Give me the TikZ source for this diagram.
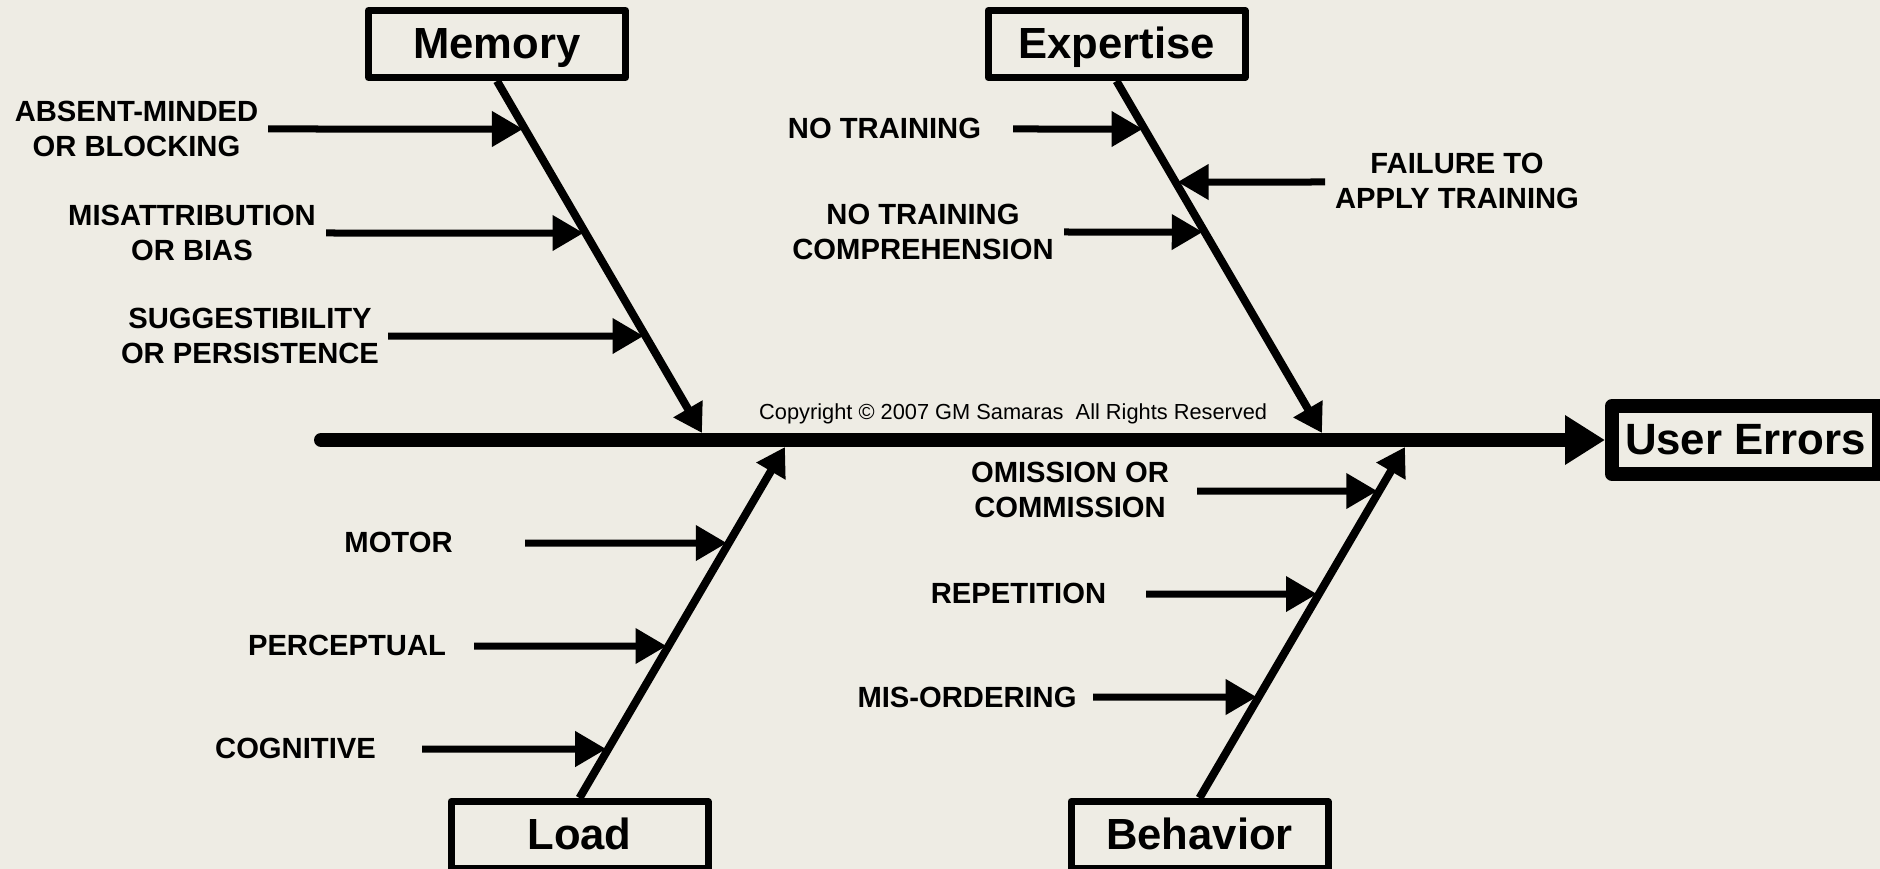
\documentclass[tikz,border=0pt]{standalone}
\usepackage{fontspec}
\setmainfont{Liberation Sans}
\usetikzlibrary{arrows.meta,calc}
\definecolor{paper}{RGB}{238,236,228}

\tikzset{
  category/.style={draw, line width=7pt, line join=round, minimum width=257pt,
    minimum height=67pt, inner sep=0pt, text height=31pt, text depth=2pt,
    font=\fontsize{43.6}{50}\selectfont\bfseries},
  effect/.style={draw, line width=14pt, line join=round, minimum width=267pt,
    minimum height=68pt, inner sep=0pt, text height=31pt, text depth=3pt,
    font=\fontsize{43.8}{50}\selectfont\bfseries},
  cause/.style={align=center, inner sep=0pt,
    font=\fontsize{29.2}{35}\selectfont\bfseries},
  branch/.style={line width=7pt, -{Triangle[length=31pt,width=34pt]}, shorten >=2pt},
  bone/.style={line width=8pt, -{Triangle[length=28pt,width=32pt]}},
  spine/.style={line width=14pt, line cap=round, -{Triangle[length=40pt,width=47pt]}},
}

% horizontal cause arrow from a start point to the bone it feeds
\newcommand\causearrow[4]{%
  \coordinate (#1s) at #2;
  \coordinate (#1r) at ($(#1s)+(100,0)$);
  \draw[branch] (#1s) -- (intersection of #1s--#1r and #3--#4);
}

\begin{document}
\begin{tikzpicture}[x=1pt,y=-1pt]
  \useasboundingbox (0,0) rectangle (1880,869);
  \clip (0,0) rectangle (1880,869);
  \fill[paper] (0,0) rectangle (1880,869);

  % effect and spine
  \node[effect] (ue) at (1745.5,440) {User Errors};
  \coordinate (spinestart) at (321,440);
  \draw[spine] (spinestart) -- (ue.west);

  % category boxes
  \node[category] (mem)  at (497,44)    {Memory};
  \node[category] (exp)  at (1116.5,44) {Expertise};
  \node[category] (load) at (579.5,835) {Load};
  \node[category] (beh)  at (1199.5,835){Behavior};

  % bones into the spine
  \coordinate (memtop) at (mem.south);
  \coordinate (exptop) at (exp.south);
  \coordinate (loadtop) at (load.north);
  \coordinate (behtop) at (beh.north);
  \coordinate (memtip)  at (702,433);
  \coordinate (exptip)  at (1322,433);
  \coordinate (loadtip) at (785,447);
  \coordinate (behtip)  at (1405,447);
  \draw[bone] (memtop) -- (memtip);
  \draw[bone] (exptop) -- (exptip);
  \draw[bone] (loadtop) -- (loadtip);
  \draw[bone] (behtop) -- (behtip);

  % Memory causes
  \node[cause] (m1) at (136.5,129) {ABSENT-MINDED\\OR BLOCKING};
  \node[cause] (m2) at (192,232.5) {MISATTRIBUTION\\OR BIAS};
  \node[cause] (m3) at (250,336)   {SUGGESTIBILITY\\OR PERSISTENCE};
  \causearrow{ma}{(268,129)}{memtop}{memtip}
  \causearrow{mb}{(326,233)}{memtop}{memtip}
  \causearrow{mc}{(388,336)}{memtop}{memtip}

  % Expertise causes
  \node[cause] (e1) at (884.5,128) {NO TRAINING};
  \node[cause] (e2) at (1457,181)  {FAILURE TO\\APPLY TRAINING};
  \node[cause] (e3) at (923,232)   {NO TRAINING\\COMPREHENSION};
  \causearrow{ea}{(1013,129)}{exptop}{exptip}
  \causearrow{eb}{(1325,182)}{exptop}{exptip}
  \causearrow{ec}{(1064,232)}{exptop}{exptip}

  % Load causes
  \node[cause] (l1) at (398.5,542) {MOTOR};
  \node[cause] (l2) at (347,645)   {PERCEPTUAL};
  \node[cause] (l3) at (295.5,748) {COGNITIVE};
  \causearrow{la}{(525,543)}{loadtop}{loadtip}
  \causearrow{lb}{(474,646)}{loadtop}{loadtip}
  \causearrow{lc}{(422,749)}{loadtop}{loadtip}

  % Behavior causes
  \node[cause] (b1) at (1070,490)   {OMISSION OR\\COMMISSION};
  \node[cause] (b2) at (1018.5,593) {REPETITION};
  \node[cause] (b3) at (967,697)    {MIS-ORDERING};
  \causearrow{ba}{(1197,491)}{behtop}{behtip}
  \causearrow{bb}{(1146,594)}{behtop}{behtip}
  \causearrow{bc}{(1093,697)}{behtop}{behtip}

  % copyright line above the spine
  \node[anchor=base west, inner sep=0pt, font=\fontsize{21.8}{26}\selectfont]
    (copy) at (759,419) {Copyright © 2007 GM Samaras\ \ All Rights Reserved};
\end{tikzpicture}
\end{document}
